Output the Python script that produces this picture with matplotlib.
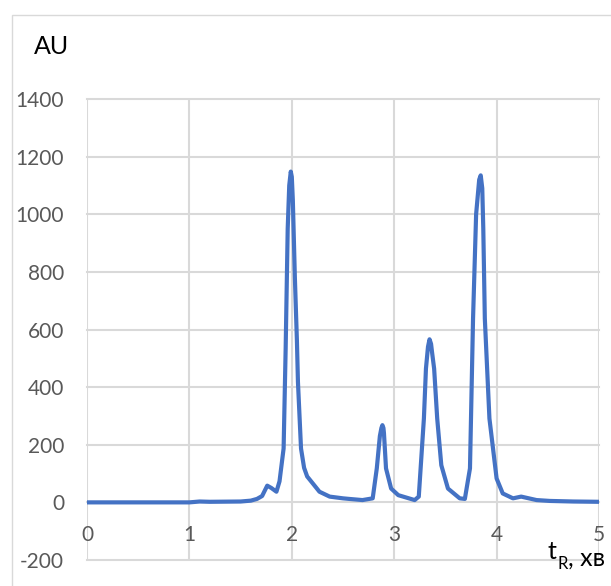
import matplotlib.pyplot as plt
from matplotlib.patches import Rectangle

# retention time (min) and detector response (AU)
t_min = [0, 0.5, 0.9, 1.0, 1.1, 1.2, 1.5, 1.6, 1.66, 1.71, 1.76, 1.8, 1.85, 1.88,
         1.92, 1.94, 1.96, 1.975, 1.99, 2.0, 2.01, 2.03, 2.05, 2.06, 2.09, 2.12,
         2.15, 2.2, 2.27, 2.37, 2.5, 2.56, 2.69, 2.79, 2.83, 2.86, 2.875, 2.885,
         2.895, 2.9, 2.92, 2.97, 3.04, 3.2, 3.24, 3.29, 3.31, 3.33, 3.345, 3.36,
         3.37, 3.39, 3.42, 3.46, 3.525, 3.64, 3.69, 3.74, 3.77, 3.8, 3.83, 3.845,
         3.86, 3.87, 3.885, 3.93, 4.0, 4.06, 4.16, 4.24, 4.39, 4.52, 4.75, 5.0]
signal = [0, 0, 0, 0, 3, 2, 3, 6, 12, 22, 58, 50, 37, 73,
          187, 534, 950, 1100, 1148, 1130, 1050, 780, 560, 418, 187, 120,
          90, 68, 37, 20, 14, 12, 8, 14, 118, 230, 258, 268,
          258, 240, 118, 48, 25, 8, 20, 291, 464, 540, 566, 550,
          520, 464, 291, 129, 48, 14, 12, 118, 638, 1000, 1120, 1135,
          1090, 950, 638, 291, 83, 31, 14, 20, 8, 5, 3, 2]

x_ticks = [0, 1, 2, 3, 4, 5]
y_ticks = [-200, 0, 200, 400, 600, 800, 1000, 1200, 1400]

plt.rcParams['font.family'] = ['Lato', 'Open Sans', 'DejaVu Sans']
plt.rcParams['axes.unicode_minus'] = False

W, H = 611, 586
fig = plt.figure(figsize=(W / 100, H / 100), dpi=100)

# outer chart border (cut off on the right and bottom)
fig.patches.append(Rectangle((12 / W, -0.2), 1.2, 1.2 - 15 / H,
                             transform=fig.transFigure, fill=False,
                             edgecolor='#d9d9d9', linewidth=1))

ax = fig.add_axes([87 / W, 1 - 560 / H, (599 - 87) / W, (560 - 99) / H])
ax.plot(t_min, signal, color='#4472C4', linewidth=3, solid_joinstyle='round',
        solid_capstyle='round')

ax.set_xlim(0, 5)
ax.set_ylim(-200, 1400)
ax.set_xticks(x_ticks)
ax.set_yticks(y_ticks)
ax.grid(True, color='#d9d9d9', linewidth=1.5)
ax.set_axisbelow(True)
for gl in ax.get_xgridlines() + ax.get_ygridlines():
    gl.set_clip_on(False)

for s in ax.spines.values():
    s.set_visible(False)
ax.spines['bottom'].set_position(('data', 0))
ax.tick_params(axis='both', length=0, labelsize=15, labelcolor='#595959')
ax.tick_params(axis='x', pad=16.5)
ax.tick_params(axis='y', pad=16.5)

fig.text(34 / W, 1 - 54 / H, 'AU', fontsize=18, color='black', va='baseline')

t1 = fig.text(548 / W, 1 - 559 / H, 't', fontsize=18, va='baseline')
t2 = ax.annotate('R', xy=(1, 0), xycoords=t1, fontsize=12, va='baseline',
                 ha='left', xytext=(0.5, -4), textcoords='offset points')
ax.annotate(', хв', xy=(1, 0), xycoords=t2, fontsize=18, va='baseline',
            ha='left', xytext=(0, 4), textcoords='offset points')

fig.savefig('out.png', dpi=100)
